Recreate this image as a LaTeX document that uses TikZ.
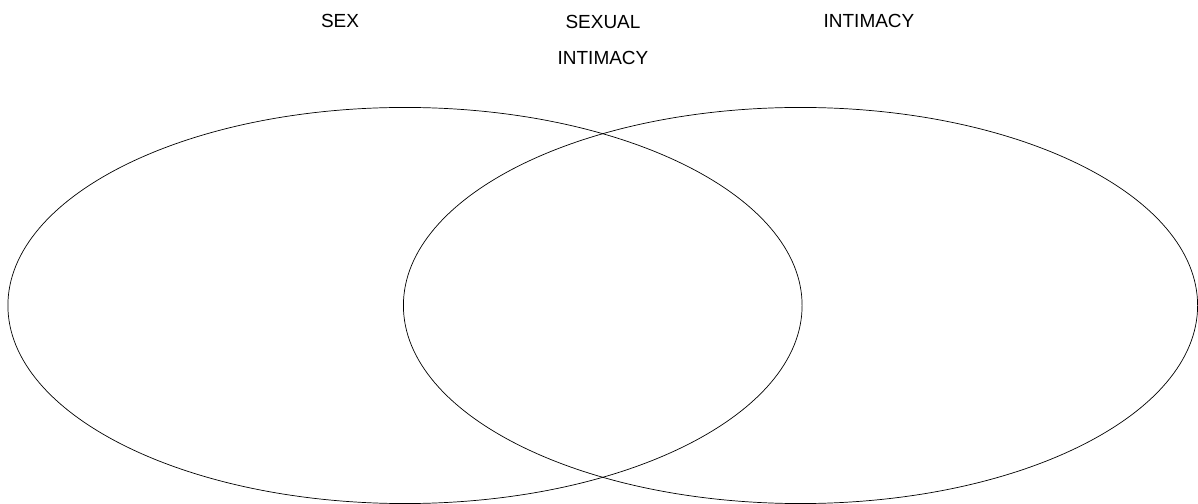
\documentclass[tikz,border=0pt]{standalone}
\usepackage{fontspec}
\setmainfont{Liberation Sans}
\usepackage{tikz}
\usetikzlibrary{shapes.geometric}
\tikzstyle{venn} = [ellipse, draw=black, line width=0.5pt, minimum width=19.85cm, minimum height=9.9cm, inner sep=0pt]
\tikzstyle{label} = [anchor=base, inner sep=0pt, align=center, font=\fontsize{13.5}{26}\selectfont]

\begin{document}
\begin{tikzpicture}[x=0.025cm, y=-0.025cm]
	\useasboundingbox (0,0) rectangle (1198,504);
	\node (sexell) [venn] at (405,305.5) {};
	\node (intell) [venn] at (800.5,305.5) {};
	\node (sex) [label] at (340,28) {SEX};
	\node (sexint) [label] at (603,65) {SEXUAL\\INTIMACY};
	\node (int) [label] at (869,28) {INTIMACY};
\end{tikzpicture}
\end{document}
